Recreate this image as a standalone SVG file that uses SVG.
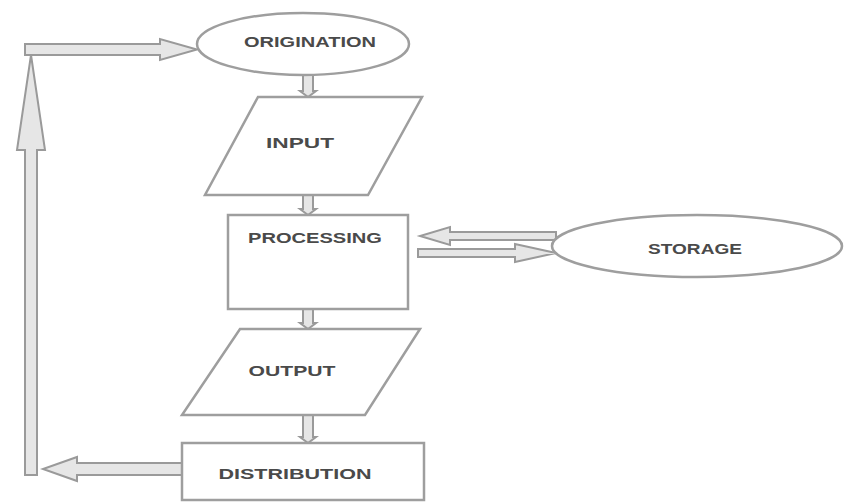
<svg xmlns="http://www.w3.org/2000/svg" width="855" height="503" viewBox="0 0 855 503">
<style>
.shape{fill:#fff;stroke:#9e9e9e;stroke-width:2.5}
.ba{fill:#e6e6e6;stroke:#9a9a9a;stroke-width:2;stroke-linejoin:miter}
.lbl{font-family:"Liberation Sans",Arial,sans-serif;font-weight:bold;font-size:15px;fill:#4a4a4a}
</style>
<rect width="855" height="503" fill="#fff"/>
<g id="connectors">
<polygon class="ba" points="303,75 313,75 313,91 316,91 308,97 300,91 303,91"/>
<polygon class="ba" points="303,195 313,195 313,209 316,209 308,215 300,209 303,209"/>
<polygon class="ba" points="303,309 313,309 313,323 316,323 308,329 300,323 303,323"/>
<polygon class="ba" points="303,415 313,415 313,437 316,437 308,443 300,437 303,437"/>
<polygon class="ba" points="182,463 77,463 77,457 43,469 77,481 77,475 182,475"/>
<polygon class="ba" points="25,475 25,150 17,150 31,55 45,150 37,150 37,475"/>
<polygon class="ba" points="25,44 160,44 160,39 197,49.5 160,60 160,55 25,55"/>
<polygon class="ba" points="556,232 450,232 450,227 420,236 450,245 450,240 556,240"/>
<polygon class="ba" points="418,249 515,249 515,244 556,253 515,262 515,257 418,257"/>
</g>
<g id="origination">
<ellipse class="shape" cx="303" cy="44" rx="106" ry="31"/>
<text class="lbl" x="310" y="47" text-anchor="middle" textLength="132" lengthAdjust="spacingAndGlyphs">ORIGINATION</text>
</g>
<g id="input">
<polygon class="shape" points="258,97 422,97 368,195 205,195"/>
<text class="lbl" x="300" y="148" text-anchor="middle" textLength="68" lengthAdjust="spacingAndGlyphs">INPUT</text>
</g>
<g id="processing">
<rect class="shape" x="228" y="215" width="180" height="94"/>
<text class="lbl" x="315" y="243" text-anchor="middle" textLength="134" lengthAdjust="spacingAndGlyphs">PROCESSING</text>
</g>
<g id="storage">
<ellipse class="shape" cx="697" cy="246" rx="145" ry="31"/>
<text class="lbl" x="695" y="254" text-anchor="middle" textLength="94" lengthAdjust="spacingAndGlyphs">STORAGE</text>
</g>
<g id="output">
<polygon class="shape" points="240,329 420,329 365,415 182,415"/>
<text class="lbl" x="292" y="376" text-anchor="middle" textLength="87" lengthAdjust="spacingAndGlyphs">OUTPUT</text>
</g>
<g id="distribution">
<rect class="shape" x="182" y="443" width="242" height="57"/>
<text class="lbl" x="295" y="479" text-anchor="middle" textLength="153" lengthAdjust="spacingAndGlyphs">DISTRIBUTION</text>
</g>
</svg>
